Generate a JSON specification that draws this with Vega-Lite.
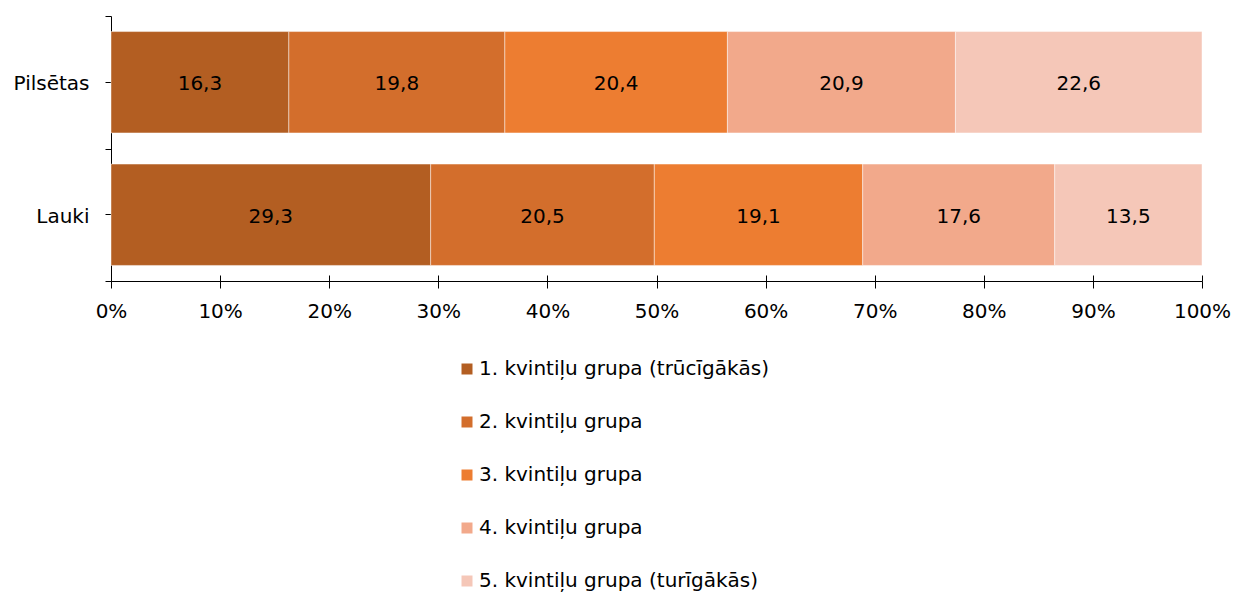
{
  "$schema": "https://vega.github.io/schema/vega-lite/v6.json",
  "width": 1091,
  "height": 265,
  "autosize": {"type": "none"},
  "padding": {"left": 111, "top": 16, "right": 33, "bottom": 313},
  "background": "#ffffff",
  "config": {
    "locale": {"number": {"decimal": ",", "thousands": "\u00a0", "grouping": [3], "currency": ["", " €"]}},
    "view": {"stroke": null},
    "font": "DejaVu Sans"
  },
  "data": {
    "values": [
      {"area": "Pilsētas", "group": "1. kvintiļu grupa (trūcīgākās)", "q": 1, "value": 16.3},
      {"area": "Pilsētas", "group": "2. kvintiļu grupa", "q": 2, "value": 19.8},
      {"area": "Pilsētas", "group": "3. kvintiļu grupa", "q": 3, "value": 20.4},
      {"area": "Pilsētas", "group": "4. kvintiļu grupa", "q": 4, "value": 20.9},
      {"area": "Pilsētas", "group": "5. kvintiļu grupa (turīgākās)", "q": 5, "value": 22.6},
      {"area": "Lauki", "group": "1. kvintiļu grupa (trūcīgākās)", "q": 1, "value": 29.3},
      {"area": "Lauki", "group": "2. kvintiļu grupa", "q": 2, "value": 20.5},
      {"area": "Lauki", "group": "3. kvintiļu grupa", "q": 3, "value": 19.1},
      {"area": "Lauki", "group": "4. kvintiļu grupa", "q": 4, "value": 17.6},
      {"area": "Lauki", "group": "5. kvintiļu grupa (turīgākās)", "q": 5, "value": 13.5}
    ]
  },
  "layer": [
    {
      "mark": {"type": "bar", "height": {"band": 0.765}, "stroke": "#ffffff", "strokeWidth": 1, "strokeOpacity": 0.45},
      "encoding": {
        "y": {
          "field": "area", "type": "nominal", "sort": ["Pilsētas", "Lauki"],
          "scale": {"paddingInner": 0, "paddingOuter": 0},
          "axis": {"orient": "left", "title": null, "labels": false, "tickBand": "extent", "tickSize": 6, "tickColor": "#000000", "domainColor": "#000000", "grid": false}
        },
        "x": {
          "field": "value", "type": "quantitative", "stack": "normalize",
          "scale": {"domain": [0, 1], "nice": false},
          "axis": {"orient": "bottom", "title": null, "values": [0, 0.1, 0.2, 0.3, 0.4, 0.5, 0.6, 0.7, 0.8, 0.9, 1], "format": "%", "grid": false, "tickSize": 7, "tickColor": "#000000", "domainColor": "#000000", "labelFont": "DejaVu Sans", "labelFontSize": 20, "labelColor": "#000000", "labelPadding": 13, "labelFlush": false}
        },
        "order": {"field": "q", "type": "quantitative"},
        "color": {
          "field": "group", "type": "nominal",
          "scale": {
            "domain": ["1. kvintiļu grupa (trūcīgākās)", "2. kvintiļu grupa", "3. kvintiļu grupa", "4. kvintiļu grupa", "5. kvintiļu grupa (turīgākās)"],
            "range": ["#B35E22", "#D36E2C", "#ED7D31", "#F2A98B", "#F5C7B8"]
          },
          "legend": {
            "title": null, "orient": "none", "legendX": 346, "legendY": 343, "direction": "vertical",
            "symbolType": "square", "symbolSize": 121, "symbolStrokeWidth": 0, "symbolOpacity": 1,
            "labelFont": "DejaVu Sans", "labelFontSize": 20, "labelColor": "#000000", "labelOffset": 2, "labelLimit": 500,
            "rowPadding": 33, "padding": 0
          }
        }
      }
    },
    {
      "mark": {"type": "text", "font": "DejaVu Sans", "fontSize": 20, "color": "#000000", "dy": 2},
      "encoding": {
        "y": {
          "field": "area", "type": "nominal", "sort": ["Pilsētas", "Lauki"],
          "axis": {"orient": "left", "title": null, "domain": false, "tickSize": 6, "tickColor": "#000000", "labelFont": "DejaVu Sans", "labelFontSize": 20, "labelColor": "#000000", "labelPadding": 16, "labelOffset": 2, "grid": false}
        },
        "x": {
          "field": "value", "type": "quantitative", "stack": "normalize", "bandPosition": 0.5,
          "axis": {"orient": "bottom", "title": null, "values": [0, 0.1, 0.2, 0.3, 0.4, 0.5, 0.6, 0.7, 0.8, 0.9, 1], "labels": false, "domain": false, "grid": false, "tickSize": -6, "tickColor": "#000000"}
        },
        "order": {"field": "q", "type": "quantitative"},
        "text": {"field": "value", "type": "quantitative", "format": ".1f"}
      }
    }
  ],
  "resolve": {"axis": {"y": "independent", "x": "independent"}}
}
